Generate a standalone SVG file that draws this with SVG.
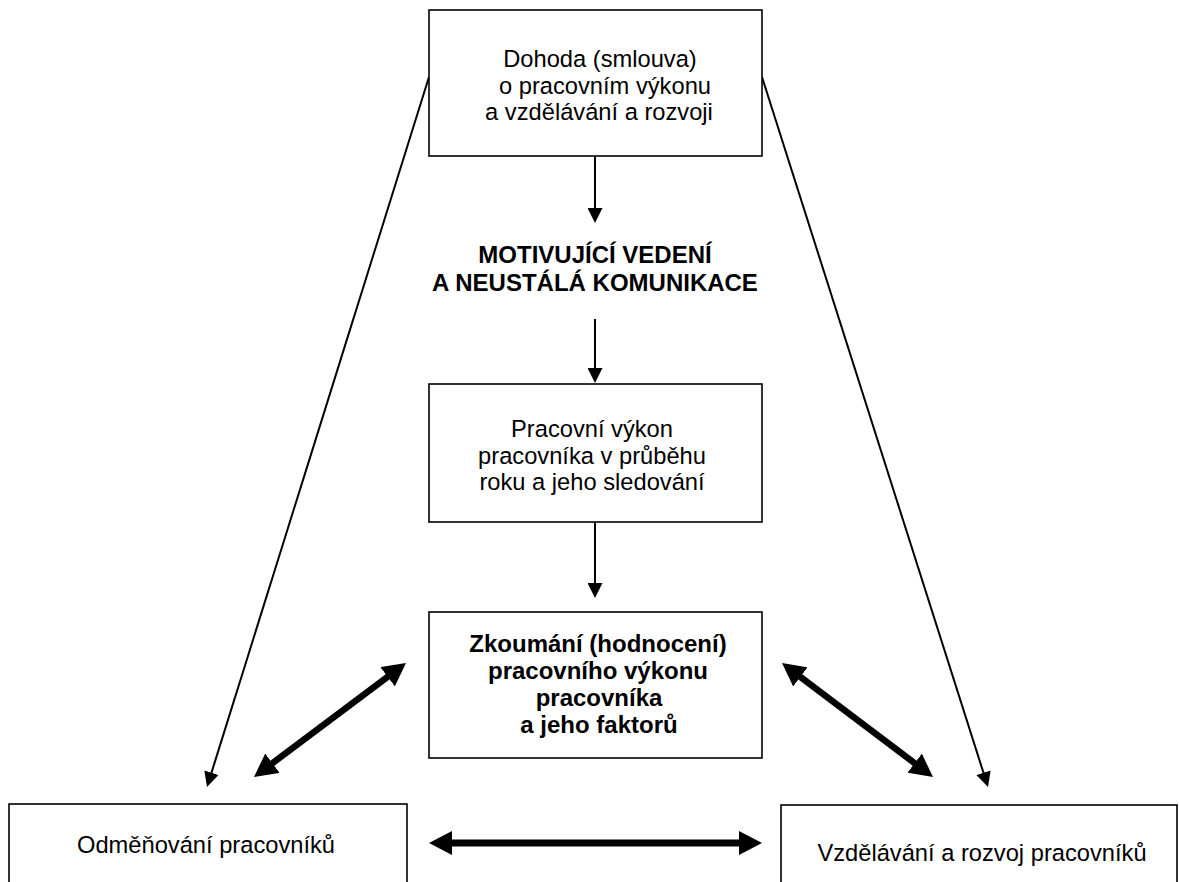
<svg xmlns="http://www.w3.org/2000/svg" width="1179" height="882" viewBox="0 0 1179 882">
  <style>
    .box { fill: #ffffff; stroke: #000000; stroke-width: 1.6; }
    .t { font-family: "Liberation Sans", Arial, sans-serif; font-size: 23.7px; fill: #000000; text-anchor: middle; }
    .b { font-weight: bold; font-size: 24px; }
    .thin { stroke: #000000; stroke-width: 2; fill: none; marker-end: url(#headThin); }
    .thick { stroke: #000000; stroke-width: 7; fill: none; marker-start: url(#headThick); marker-end: url(#headThick); }
  </style>
  <defs>
    <marker id="headThin" markerUnits="userSpaceOnUse" markerWidth="15" markerHeight="15" refX="12" refY="7.5" orient="auto">
      <path d="M0,0 L15,7.5 L0,15 z" fill="#000000"/>
    </marker>
    <marker id="headThick" markerUnits="userSpaceOnUse" markerWidth="24" markerHeight="24" refX="15" refY="12" orient="auto-start-reverse">
      <path d="M0,0 L23,12 L0,24 z" fill="#000000"/>
    </marker>
  </defs>
  <rect width="1179" height="882" fill="#ffffff"/>

  <!-- connectors -->
  <g id="connectors">
    <line class="thin" x1="595" y1="156" x2="595" y2="220"/>
    <line class="thin" x1="595" y1="319" x2="595" y2="380"/>
    <line class="thin" x1="595" y1="522" x2="595" y2="595"/>
    <line class="thin" x1="429" y1="77" x2="207.9" y2="784.1"/>
    <line class="thin" x1="762" y1="77" x2="987.1" y2="784.1"/>
    <line class="thick" style="stroke-width:6.5" x1="399.6" y1="667.8" x2="260.4" y2="772.2"/>
    <line class="thick" style="stroke-width:6.5" x1="788.4" y1="667.8" x2="926.6" y2="772.2"/>
    <line class="thick" x1="437" y1="843" x2="754" y2="843"/>
  </g>

  <g id="dohoda">
    <rect class="box" x="429" y="10" width="333" height="146"/>
    <text class="t" x="600" y="67">Dohoda (smlouva)</text>
    <text class="t" x="605" y="93.5">o pracovním výkonu</text>
    <text class="t" x="599" y="120">a vzdělávání a rozvoji</text>
  </g>

  <g id="vedeni">
    <text class="t b" x="595" y="263">MOTIVUJÍCÍ VEDENÍ</text>
    <text class="t b" x="595" y="291">A NEUSTÁLÁ KOMUNIKACE</text>
  </g>

  <g id="vykon">
    <rect class="box" x="429" y="384" width="333" height="138"/>
    <text class="t" x="592" y="437">Pracovní výkon</text>
    <text class="t" x="592" y="463.5">pracovníka v průběhu</text>
    <text class="t" x="592" y="490">roku a jeho sledování</text>
  </g>

  <g id="zkoumani">
    <rect class="box" x="429" y="612" width="333" height="146"/>
    <text class="t b" x="598" y="652">Zkoumání (hodnocení)</text>
    <text class="t b" x="598" y="679">pracovního výkonu</text>
    <text class="t b" x="599" y="706">pracovníka</text>
    <text class="t b" x="599" y="733">a jeho faktorů</text>
  </g>

  <g id="odmenovani">
    <rect class="box" x="9" y="804" width="398" height="100"/>
    <text class="t" x="206" y="853">Odměňování pracovníků</text>
  </g>

  <g id="vzdelavani">
    <rect class="box" x="781" y="805" width="396" height="100"/>
    <text class="t" x="982" y="861">Vzdělávání a rozvoj pracovníků</text>
  </g>
</svg>
